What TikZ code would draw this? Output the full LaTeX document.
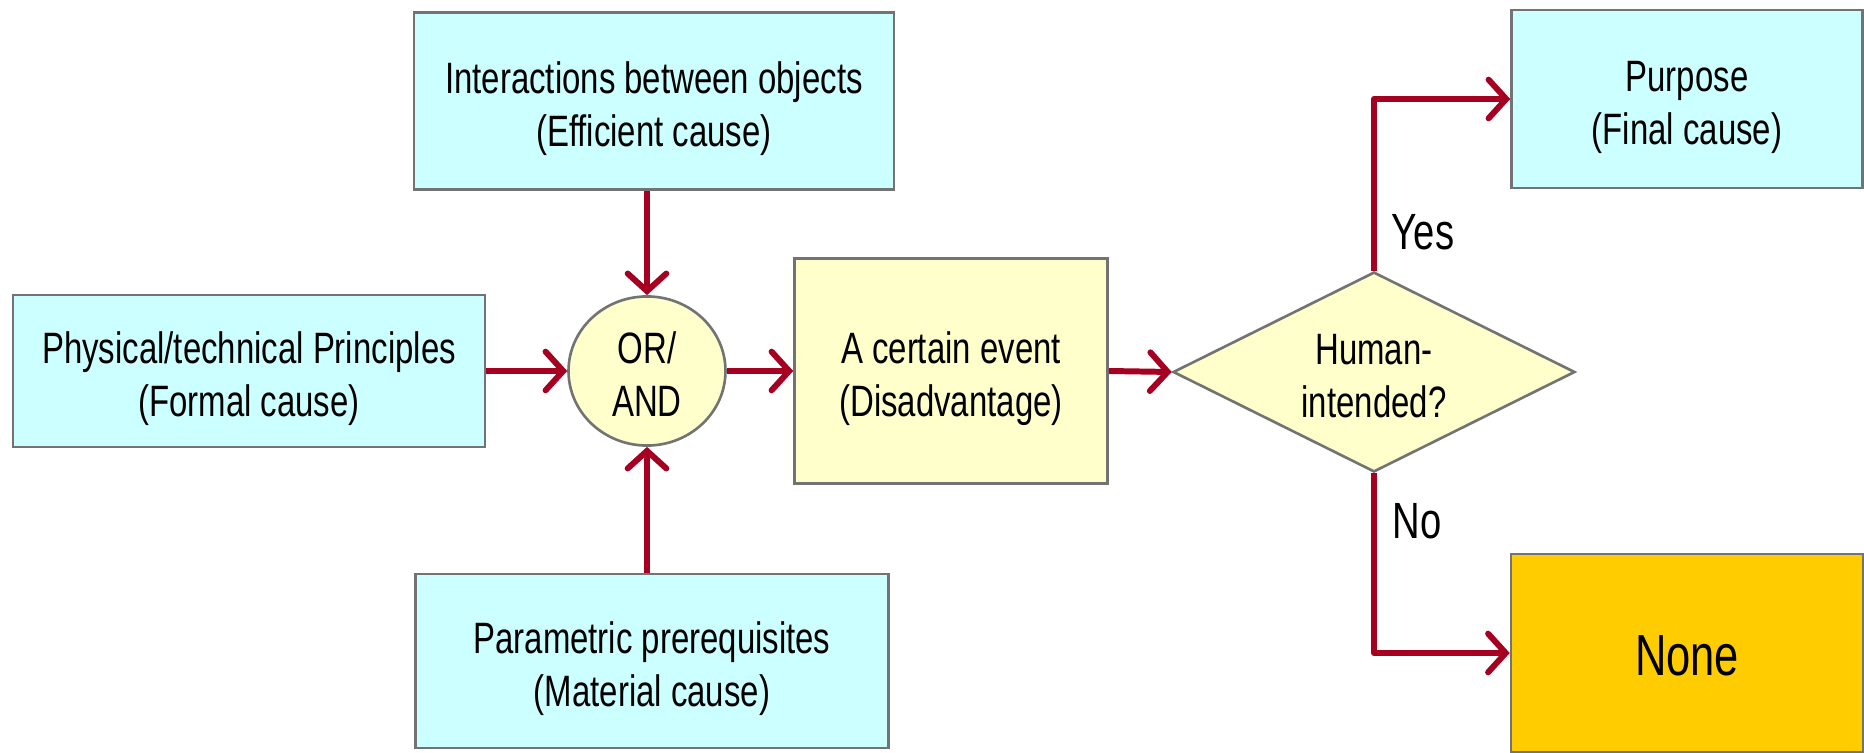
\documentclass[tikz,border=0pt]{standalone}
\usepackage{fontspec}
\setmainfont{Liberation Sans}[FakeStretch=0.75]
\usetikzlibrary{shapes.geometric,arrows.meta}
\definecolor{cyanbox}{HTML}{CCFFFF}
\definecolor{creambox}{HTML}{FFFFCC}
\definecolor{goldbox}{HTML}{FFCC00}
\definecolor{linkred}{HTML}{A50021}
\tikzset{every node/.style={align=center,inner sep=0pt,font=\fontsize{25}{30}\selectfont},
  causebox/.style={draw=black!55,line width=1.5pt,fill=cyanbox},
  eventbox/.style={draw=black!55,line width=1.5pt,fill=creambox},
  nonebox/.style={draw=black!55,line width=1.5pt,fill=goldbox},
  link/.style={->,draw=linkred,line width=3.4pt,line join=round},
  >={Straight Barb[length=10pt,width=22pt,line cap=round]}}
\def\cn#1#2{\draw[link] (#1) -- (#2);}
\newcommand{\lowtext}[1]{\raisebox{-5pt}[\height][\depth]{\begin{tabular}{@{}c@{}}#1\end{tabular}}}
\newcommand{\nbox}[4][]{\node[#1] (#2) at (#3) {\lowtext{#4}};}

\begin{document}
\begin{tikzpicture}[x=0.02cm,y=-0.02cm]
    \useasboundingbox (0,0) rectangle (1864,753);

    \nbox[causebox,minimum width=9.6cm,minimum height=3.54cm]{eff}{654,101}{Interactions between objects\\(Efficient cause)}
    \nbox[causebox,minimum width=9.44cm,minimum height=3.04cm]{form}{249,371}{Physical/technical Principles\\(Formal cause)}
    \nbox[causebox,minimum width=9.46cm,minimum height=3.48cm]{mat}{652,661}{Parametric prerequisites\\(Material cause)}

    \nbox[eventbox,ellipse,minimum width=3.14cm,minimum height=2.64cm]{gate}{647,371}{OR/\\AND}
    \nbox[eventbox,minimum width=6.26cm,minimum height=4.5cm]{event}{951,371}{A certain event\\(Disadvantage)}
    \nbox[eventbox,diamond,aspect=2,minimum width=8.04cm,minimum height=4cm]{dec}{1374,372}{Human-\\intended?}

    \nbox[causebox,minimum width=7.02cm,minimum height=3.56cm]{purp}{1687,99}{Purpose\\(Final cause)}
    \nbox[nonebox,minimum width=7.04cm,minimum height=3.96cm,font=\fontsize{33}{40}\selectfont]{none}{1687,653}{None}

    \node[font=\fontsize{29}{34}\selectfont] (yes) at (1423,232) {Yes};
    \node[font=\fontsize{29}{34}\selectfont] (no) at (1417,521) {No};

    \cn{eff.south -| gate.north}{gate.north}
    \cn{mat.north -| gate.south}{gate.south}
    \cn{form.east}{gate.west}
    \cn{gate.east}{event.west}
    \cn{event.east}{dec.west}
    \draw[link] (dec.north) |- (purp.west);
    \draw[link] (dec.south) |- (none.west);

\end{tikzpicture}
\end{document}
